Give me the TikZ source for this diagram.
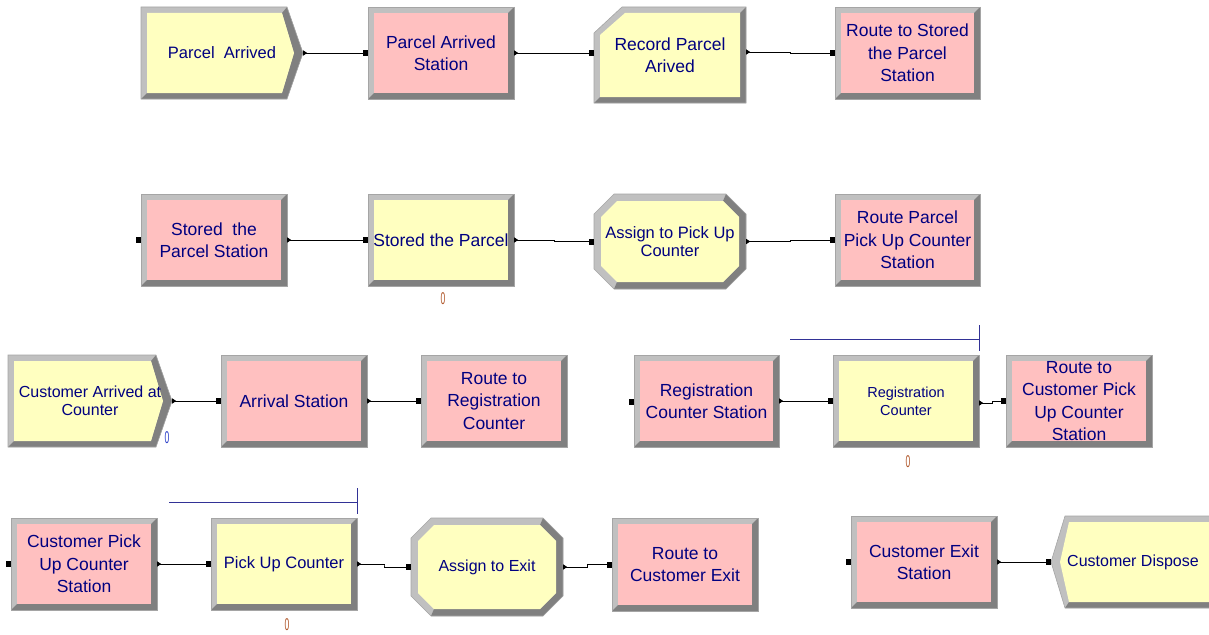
\documentclass[tikz,border=0pt]{standalone}
\usepackage{fontspec}
\usepackage{graphicx}
\setmainfont{Liberation Sans}
\usetikzlibrary{calc,arrows.meta}
\definecolor{bevl}{RGB}{192,192,192}
\definecolor{bevd}{RGB}{128,128,128}
\definecolor{edgec}{RGB}{165,165,165}
\definecolor{yel}{RGB}{255,255,192}
\definecolor{pnk}{RGB}{255,192,192}
\definecolor{navy}{RGB}{0,0,128}
\definecolor{qblue}{RGB}{50,50,150}
\definecolor{cntr}{RGB}{175,85,40}
\definecolor{cntb}{RGB}{40,60,200}
\tikzset{
  lbl/.style={inner sep=0pt, align=center, text=navy},
  fbig/.style={font=\fontsize{17.5}{22.5}\selectfont},
  fmid/.style={font=\fontsize{16.5}{18}\selectfont},
  fsml/.style={font=\fontsize{16}{18}\selectfont},
  ftiny/.style={font=\fontsize{14.5}{18}\selectfont},
  conn/.style={draw=black, line width=0.9pt,
    {Triangle[reversed,length=4pt,width=5pt]}-{Square[length=5pt,width=6pt]}},
  qline/.style={draw=qblue, line width=0.9pt},
  cnt/.style={inner sep=0pt, font=\fontsize{17}{17}\selectfont}
}
% rectangle block: name x1 y1 x2 y2 fill fontstyle text
\newcommand\RectBlk[8]{%
  \fill[bevl] (#2,#3) rectangle (#4,#5);
  \fill[bevd] (#4,#3) -- (#4,#5) -- (#2,#5) -- (#2+6,#5-6) -- (#4-6,#5-6) -- (#4-6,#3+6) -- cycle;
  \fill[#6] (#2+6,#3+6) rectangle (#4-6,#5-6);
  \draw[edgec,line width=0.6pt] (#2,#3) rectangle (#4,#5);
  \node[lbl,#7,minimum width={#4pt-#2pt},minimum height={#5pt-#3pt}] (#1) at ({(#2+#4)/2},{(#3+#5)/2}) {#8};}
% create block: name x1 y1 xp y2 fontstyle text
\newcommand\CreateBlk[7]{%
  \fill[bevl] (#2,#3) -- (#4-16,#3) -- (#4,{(#3+#5)/2}) -- (#4-16,#5) -- (#2,#5) -- cycle;
  \fill[bevd] (#4-16,#3) -- (#4,{(#3+#5)/2}) -- (#4-16,#5) -- (#2,#5) -- (#2+6,#5-6) -- (#4-21,#5-6) -- (#4-9,{(#3+#5)/2}) -- (#4-21,#3+6) -- cycle;
  \fill[yel] (#2+6,#3+6) -- (#4-21,#3+6) -- (#4-9,{(#3+#5)/2}) -- (#4-21,#5-6) -- (#2+6,#5-6) -- cycle;
  \draw[edgec,line width=0.6pt] (#2,#3) -- (#4-16,#3) -- (#4,{(#3+#5)/2}) -- (#4-16,#5) -- (#2,#5) -- cycle;
  \node[lbl,#6,minimum width={#4pt-#2pt},minimum height={#5pt-#3pt}] (#1) at ({(#2+#4)/2},{(#3+#5)/2}) {#7};}
% record block: name x1 y1 x2 y2 fontstyle text
\newcommand\RecordBlk[7]{%
  \fill[bevl] (#2,#3+26) -- (#2+28,#3) -- (#4,#3) -- (#4,#5) -- (#2,#5) -- cycle;
  \fill[bevd] (#4,#3) -- (#4,#5) -- (#2,#5) -- (#2+6,#5-6) -- (#4-6,#5-6) -- (#4-6,#3+6) -- cycle;
  \fill[yel] (#2+6,#3+28) -- (#2+31,#3+6) -- (#4-6,#3+6) -- (#4-6,#5-6) -- (#2+6,#5-6) -- cycle;
  \draw[edgec,line width=0.6pt] (#2,#3+26) -- (#2+28,#3) -- (#4,#3) -- (#4,#5) -- (#2,#5) -- cycle;
  \node[lbl,#6,minimum width={#4pt-#2pt},minimum height={#5pt-#3pt}] (#1) at ({(#2+#4)/2},{(#3+#5)/2}) {#7};}
% octagon (assign) block: name x1 y1 x2 y2 fontstyle text
\newcommand\AssignBlk[7]{%
  \fill[bevl] (#2,#3+20) -- (#2+20,#3) -- (#4-20,#3) -- (#4,#3+20) -- (#4,#5-20) -- (#4-20,#5) -- (#2+20,#5) -- (#2,#5-20) -- cycle;
  \fill[bevd] (#4-20,#3) -- (#4,#3+20) -- (#4,#5-20) -- (#4-20,#5) -- (#2+20,#5)
     -- (#2+23,#5-7) -- (#4-23,#5-7) -- (#4-7,#5-23) -- (#4-7,#3+23) -- (#4-23,#3+7) -- cycle;
  \fill[yel] (#2+7,#3+23) -- (#2+23,#3+7) -- (#4-23,#3+7) -- (#4-7,#3+23) -- (#4-7,#5-23) -- (#4-23,#5-7) -- (#2+23,#5-7) -- (#2+7,#5-23) -- cycle;
  \draw[edgec,line width=0.6pt] (#2,#3+20) -- (#2+20,#3) -- (#4-20,#3) -- (#4,#3+20) -- (#4,#5-20) -- (#4-20,#5) -- (#2+20,#5) -- (#2,#5-20) -- cycle;
  \node[lbl,#6,minimum width={#4pt-#2pt},minimum height={#5pt-#3pt}] (#1) at ({(#2+#4)/2},{(#3+#5)/2}) {#7};}
% dispose block: name xp y1 x2 y2 fontstyle text
\newcommand\DisposeBlk[7]{%
  \fill[bevl] (#2+14,#3) -- (#4,#3) -- (#4,#5) -- (#2+14,#5) -- (#2,{(#3+#5)/2}) -- cycle;
  \fill[bevd] (#4,#3) -- (#4,#5) -- (#2+14,#5) -- (#2+18,#5-6) -- (#4-6,#5-6) -- (#4-6,#3+6) -- cycle;
  \fill[yel] (#2+18,#3+6) -- (#4-6,#3+6) -- (#4-6,#5-6) -- (#2+18,#5-6) -- (#2+9,{(#3+#5)/2}) -- cycle;
  \draw[edgec,line width=0.6pt] (#2+14,#3) -- (#4,#3) -- (#4,#5) -- (#2+14,#5) -- (#2,{(#3+#5)/2}) -- cycle;
  \node[lbl,#6,minimum width={#4pt-#2pt},minimum height={#5pt-#3pt}] (#1) at ({(#2+#4)/2},{(#3+#5)/2}) {#7};}
\newcommand\Zero[1]{\textcolor{#1}{\scalebox{0.5}[1]{0}}}
\begin{document}
\begin{tikzpicture}[x=1pt,y=-1pt]
\useasboundingbox (0,0) rectangle (1209,634);
\begin{scope}
\clip (0,0) rectangle (1209,634);
% ---- row 1
\CreateBlk{pa}{141}{7}{303}{99}{fmid}{Parcel~ Arrived}
\RectBlk{pas}{368}{7}{514}{99}{pnk}{fbig}{Parcel Arrived\\Station}
\RecordBlk{rpa}{594}{7}{746}{103}{fbig}{Record Parcel\\Arived}
\RectBlk{rts}{835}{7}{980}{99}{pnk}{fbig}{Route to Stored\\the Parcel\\Station}
% ---- row 2
\RectBlk{sps}{141}{194}{287}{286}{pnk}{fbig}{Stored~ the\\Parcel Station}
\RectBlk{sp}{368}{194}{514}{286}{yel}{fbig}{Stored the Parcel}
\AssignBlk{apu}{594}{194}{746}{289}{fmid}{Assign to Pick Up\\Counter}
\RectBlk{rpp}{835}{194}{980}{286}{pnk}{fbig}{Route Parcel\\Pick Up Counter\\Station}
% ---- row 3
\CreateBlk{cac}{8}{355}{172}{447}{fsml}{Customer Arrived at\\Counter}
\RectBlk{arr}{221}{355}{367}{447}{pnk}{fbig}{Arrival Station}
\RectBlk{rrc}{421}{355}{567}{447}{pnk}{fbig}{Route to\\Registration\\Counter}
\RectBlk{rcs}{634}{355}{779}{447}{pnk}{fbig}{Registration\\Counter Station}
\RectBlk{rc}{833}{355}{979}{447}{yel}{ftiny}{Registration\\Counter}
\RectBlk{rcp}{1006}{355}{1152}{447}{pnk}{fbig}{Route to\\Customer Pick\\Up Counter\\Station}
% ---- row 4
\RectBlk{cpu}{11}{518}{157}{610}{pnk}{fbig}{Customer Pick\\Up Counter\\Station}
\RectBlk{puc}{211}{518}{357}{610}{yel}{fmid}{Pick Up Counter}
\AssignBlk{ate}{411}{518}{563}{616}{fsml}{Assign to Exit}
\RectBlk{rce}{612}{518}{758}{611}{pnk}{fbig}{Route to\\Customer Exit}
\RectBlk{ces}{851}{516}{997}{608}{pnk}{fbig}{Customer Exit\\Station}
\DisposeBlk{cd}{1051}{516}{1215}{608}{fsml}{Customer Dispose}
\end{scope}
% ---- connectors
\draw[conn] (pa.east) -- (pas.west);
\draw[conn] (pas.east) -- (rpa.west |- pas.east);
\draw[conn] ([yshift=1pt]rpa.east |- pas.east) -| ($(rpa.east)!.5!(rts.west)$) |- (rts.west);
\draw[conn] (sps.east) -- (sp.west);
\draw[conn] (sp.east) -| ($(sp.east)!.5!(apu.west)$) |- (apu.west);
\draw[conn] (apu.east) -| ($(apu.east)!.5!(rpp.west)$) |- (rpp.west);
\draw[conn] (cac.east) -- (arr.west);
\draw[conn] (arr.east) -- (rrc.west);
\draw[conn] (rcs.east) -- (rc.west);
\draw[conn] ([yshift=-2pt]rc.east) -| ($(rc.east)!.5!(rcp.west)$) |- (rcp.west);
\draw[conn] (cpu.east) -- (puc.west);
\draw[conn] (puc.east) -| ($(puc.east)!.5!(ate.west)$) |- (ate.west);
\draw[conn] (ate.east) -| ($(ate.east)!.5!(rce.west)$) |- (rce.west);
\draw[conn] (ces.east) -- (cd.west);
% unconnected entry points
\fill[black] (136,237) rectangle (141,243);
\fill[black] (629,399) rectangle (634,405);
\fill[black] (6,561) rectangle (11,567);
\fill[black] (846,559) rectangle (851,565);
% resource queue lines
\draw[qline] (790,339) -- (979,339);
\draw[qline] (979,325) -- (979,351);
\draw[qline] (169,502) -- (357,502);
\draw[qline] (357,488) -- (357,514);
% counters
\node[cnt] (c1) at (443,299) {\Zero{cntr}};
\node[cnt] (c2) at (167,438) {\Zero{cntb}};
\node[cnt] (c3) at (908,462) {\Zero{cntr}};
\node[cnt] (c4) at (287,625) {\Zero{cntr}};
\end{tikzpicture}
\end{document}
